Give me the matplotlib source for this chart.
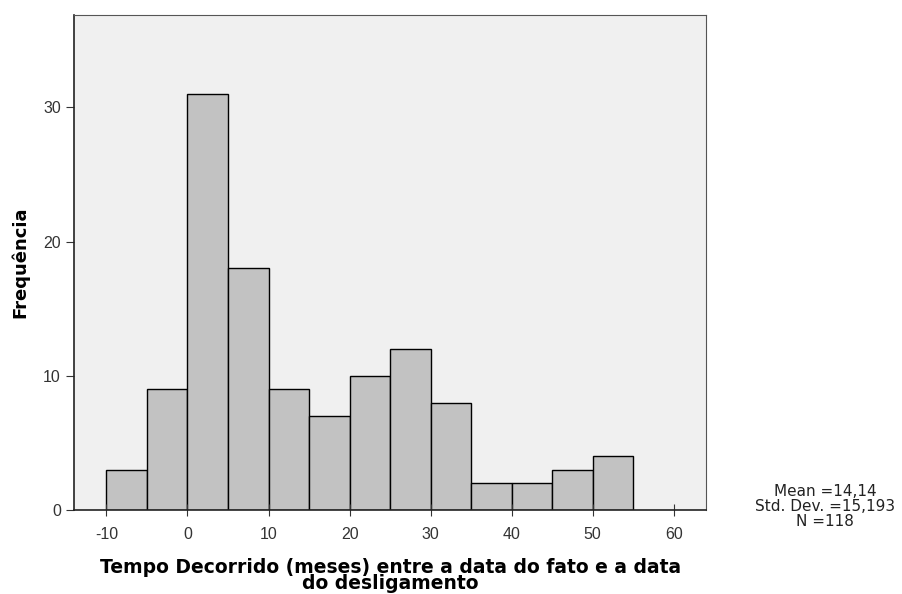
import matplotlib
matplotlib.use("Agg")
import matplotlib.pyplot as plt

plt.rcParams["axes.unicode_minus"] = False

# histogram of elapsed months, bin width 5
bin_edges = [-10, -5, 0, 5, 10, 15, 20, 25, 30, 35, 40, 45, 50, 55]
counts = [3, 9, 31, 18, 9, 7, 10, 12, 8, 2, 2, 3, 4]
x_ticks = [-10, 0, 10, 20, 30, 40, 50, 60]
y_ticks = [0, 10, 20, 30]
stats_text = "Mean =14,14\nStd. Dev. =15,193\nN =118"

fig = plt.figure(figsize=(9.03, 5.94), dpi=100)
ax = fig.add_axes([0.082, 0.1414, 0.700, 0.834])
ax.set_facecolor("#f0f0f0")

lefts = bin_edges[:-1]
widths = [b - a for a, b in zip(bin_edges[:-1], bin_edges[1:])]
ax.bar(lefts, counts, width=widths, align="edge", color="#c2c2c2",
       edgecolor="black", linewidth=1.0)

ax.set_xlim(-14, 64)
ax.set_ylim(0, 36.9)
ax.set_xticks(x_ticks)
ax.set_yticks(y_ticks)
ax.tick_params(axis="both", labelsize=11.5, colors="#333333", length=6)
ax.tick_params(axis="x", direction="inout", length=8, pad=8)
for lab in ax.get_xticklabels() + ax.get_yticklabels():
    lab.set_fontfamily("Liberation Sans")

for s in ["top", "right"]:
    ax.spines[s].set_color("#555555")
    ax.spines[s].set_linewidth(0.8)
for s in ["left", "bottom"]:
    ax.spines[s].set_color("#222222")
    ax.spines[s].set_linewidth(1.2)

ax.set_ylabel("Frequência", fontsize=13, fontweight="bold", labelpad=10)
ax.set_xlabel("Tempo Decorrido (meses) entre a data do fato e a data\ndo desligamento",
              fontsize=13.5, fontweight="bold", linespacing=0.8, labelpad=12)

fig.text(0.914, 0.148, stats_text, ha="center", va="center", fontsize=11,
         family="DejaVu Sans", linespacing=1.0, color="#222222")

fig.savefig("out.png", dpi=100)
